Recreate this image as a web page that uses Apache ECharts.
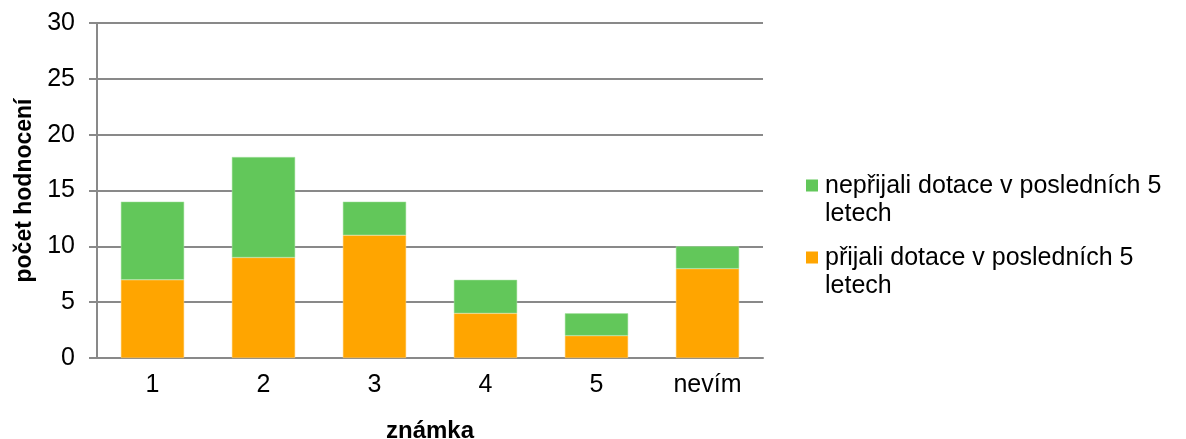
<!DOCTYPE html>
<html>
<head>
<meta charset="utf-8">
<script src="https://cdn.jsdelivr.net/npm/echarts@6/dist/echarts.min.js"></script>
<style>
  html, body { margin: 0; padding: 0; background: #fff; }
  #chart { width: 1186px; height: 439px; }
</style>
</head>
<body>
<div id="chart"></div>
<script>
// kategorie na ose x
const categories = ['1', '2', '3', '4', '5', 'nevím']
// přijali dotace (oranžová, spodní část)
const prijali = [7, 9, 11, 4, 2, 8]
// nepřijali dotace (zelená, horní část)
const neprijali = [7, 9, 3, 3, 2, 2]
const seriesNames = ['nepřijali dotace v posledních 5 letech', 'přijali dotace v posledních 5 letech']

const font = 'Liberation Sans, Arial, sans-serif'
// čtvereček nahoře, neviditelný bod dole -> ikona u prvního řádku textu
const legendIcon = 'path://M0,0L12,0L12,12L0,12Z M0,41L0.001,41L0.001,41.001Z'
const chart = echarts.init(document.getElementById('chart'))

const option = {
  animation: false,
  grid: { left: 97, right: 423, top: 23, bottom: 81, containLabel: false, outerBoundsMode: 'none' },
  legend: {
    orient: 'vertical',
    left: 806,
    top: 172,
    padding: 0,
    itemWidth: 12,
    itemHeight: 41,
    itemGap: 16,
    icon: legendIcon,
    itemStyle: { borderWidth: 0 },
    data: [seriesNames[0], seriesNames[1]],
    formatter: name => name.replace(' 5 letech', ' 5\nletech'),
    textStyle: { fontFamily: font, fontSize: 25, color: '#000', lineHeight: 28, padding: [0, 0, 0, 2] }
  },
  xAxis: {
    type: 'category',
    data: categories,
    name: 'známka',
    nameLocation: 'middle',
    nameGap: 61,
    nameTextStyle: { fontFamily: font, fontSize: 24, fontWeight: 'bold', color: '#000' },
    axisLine: { lineStyle: { color: '#898989', width: 2 } },
    axisTick: { show: false },
    axisLabel: { fontFamily: font, fontSize: 25, color: '#000', margin: 15 }
  },
  yAxis: {
    type: 'value',
    min: 0,
    max: 30,
    interval: 5,
    name: 'počet hodnocení',
    nameLocation: 'middle',
    nameGap: 60,
    nameTextStyle: { fontFamily: font, fontSize: 23, fontWeight: 'bold', color: '#000' },
    axisLine: { show: true, lineStyle: { color: '#898989', width: 2 } },
    axisTick: { show: true, length: 8, lineStyle: { color: '#898989', width: 2 } },
    axisLabel: { fontFamily: font, fontSize: 25, color: '#000', margin: 22 },
    splitLine: { lineStyle: { color: '#898989', width: 2 } }
  },
  series: [
    {
      name: seriesNames[1],
      type: 'bar',
      stack: 'total',
      barWidth: '57%',
      data: prijali,
      itemStyle: { color: '#FFA500', borderColor: '#FFD27A', borderWidth: 0.5 }
    },
    {
      name: seriesNames[0],
      type: 'bar',
      stack: 'total',
      barWidth: '57%',
      data: neprijali,
      itemStyle: { color: '#62C75A', borderColor: '#A8E3A3', borderWidth: 0.5 }
    }
  ]
}
chart.setOption(option)
</script>
</body>
</html>
